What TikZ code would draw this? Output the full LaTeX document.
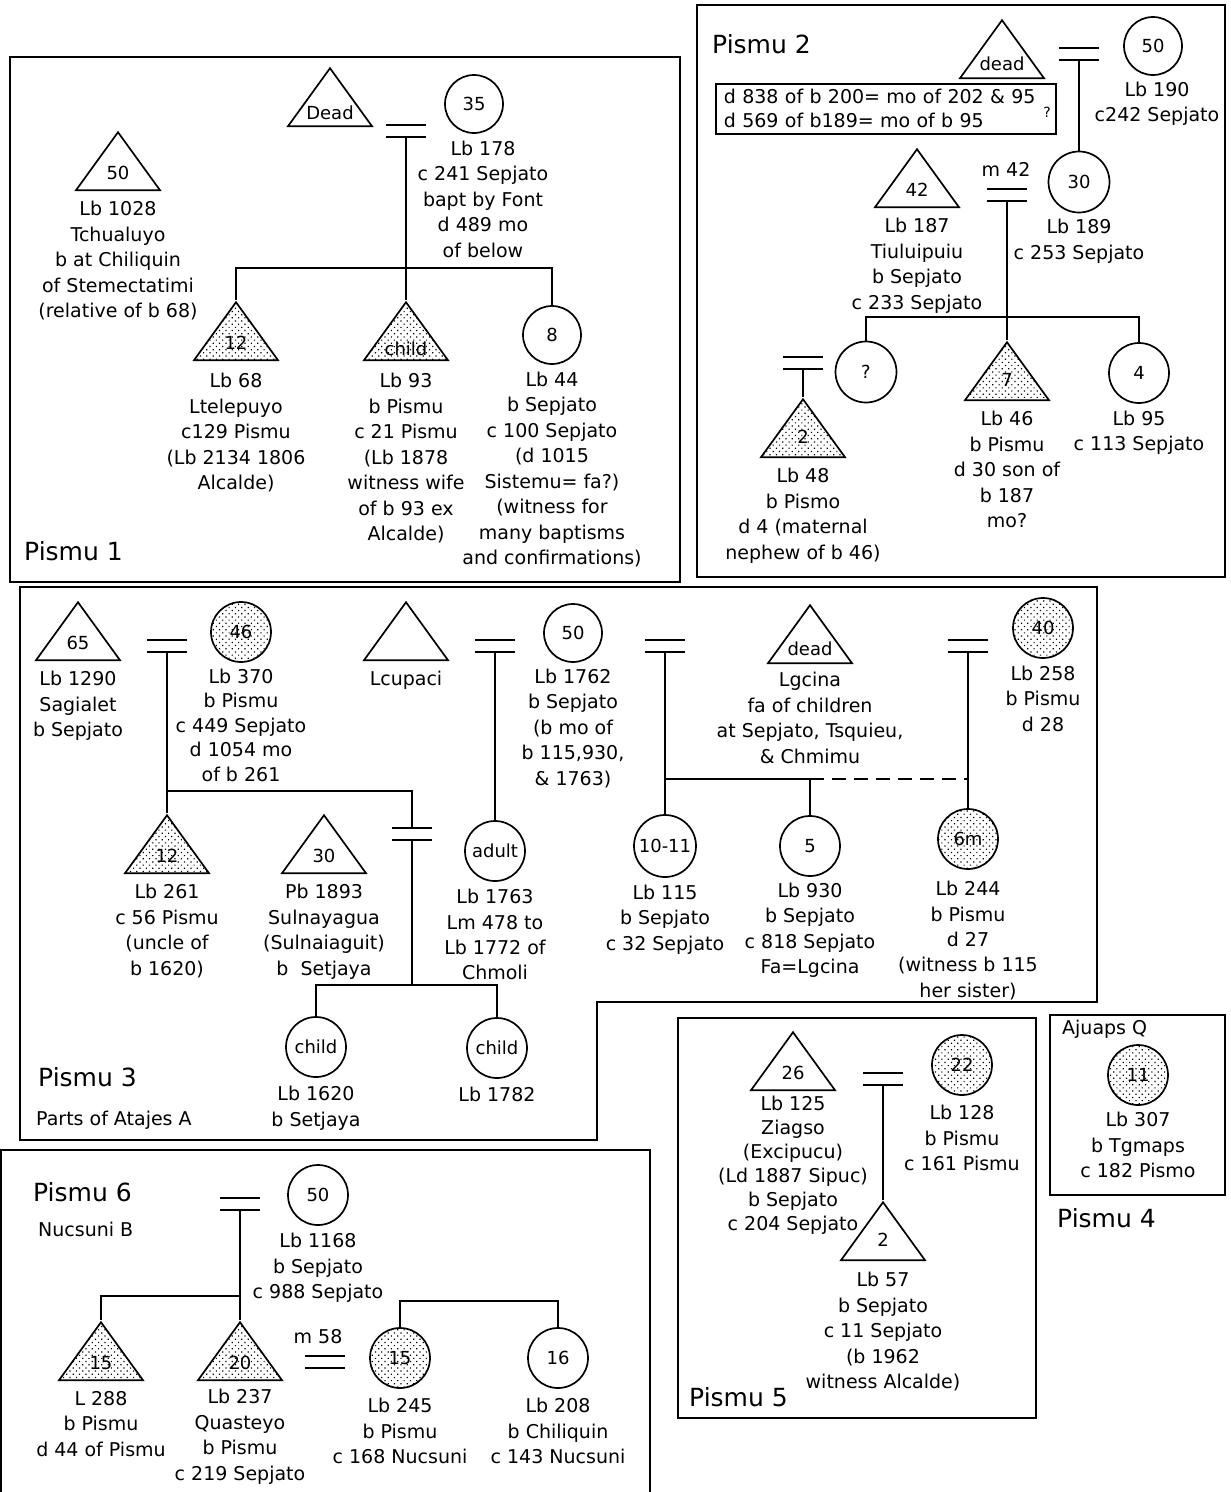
\documentclass[tikz,border=0pt]{standalone}
\usepackage{fontspec}
\setmainfont{DejaVu Sans}
\usetikzlibrary{positioning,shapes.geometric,patterns.meta}
\newcommand{\alul}[2][10pt]{\makebox[0pt]{\raisebox{-#1}[\height][\depth]{#2}}}
\tikzset{
  ferfi/.style={isosceles triangle,isosceles triangle stretches,shape border rotate=90,
    draw,line width=1.7pt,minimum width=84pt,minimum height=58pt,inner sep=1pt,anchor=apex,
    font=\fontsize{18}{20}\selectfont},
  noi/.style={circle,draw,line width=1.7pt,minimum size=58pt,inner sep=0pt,
    font=\fontsize{18}{20}\selectfont},
  pottyos/.style={pattern={Dots[distance=4.5pt,radius=0.85pt,angle=45]}},
  adat/.style={align=center,inner sep=0pt,font=\fontsize{19}{25.5}\selectfont},
  cim/.style={inner sep=0pt,font=\fontsize{25}{28}\selectfont},
  keret/.style={line width=1.8pt},
  vonal/.style={line width=1.8pt},
  hazas/.pic={\draw[vonal] (-20,-12) -- (20,-12) (-20,0) -- (20,0);
    \coordinate (-v) at (0,0); \coordinate (-t) at (0,-12);},
}
\begin{document}
\begin{tikzpicture}[x=1pt,y=-1pt]
  \useasboundingbox (0,0) rectangle (1231,1492);
  % Pismu 1
  \draw[keret] (10,57) rectangle (680,582);
  \node[cim,anchor=west] (cim1) at (24,551) {Pismu 1};
  \node[ferfi] (t1028) at (118,130) {50};
  \node[adat,below=10pt of t1028] (a1028) {Lb 1028\\Tchualuyo\\b at Chiliquin\\of Stemectatimi\\(relative of b 68)};
  \node[ferfi] (tdead1) at (330,66) {\alul{Dead}};
  \pic (m1) at (406,137) {hazas};
  \node[noi] (c178) at (474,104) {35};
  \node[adat,below=7pt of c178,xshift=9pt] (a178) {Lb 178\\c 241 Sepjato\\bapt by Font\\d 489 mo\\of below};
  \node[ferfi,pottyos] (t68) at (236,300) {12};
  \node[adat,below=12pt of t68] (a68) {Lb 68\\Ltelepuyo\\c129 Pismu\\(Lb 2134 1806\\Alcalde)};
  \node[ferfi,pottyos] (t93) at (406,300) {\alul[12pt]{child}};
  \node[adat,below=12pt of t93] (a93) {Lb 93\\b Pismu\\c 21 Pismu\\(Lb 1878\\witness wife\\of b 93 ex\\Alcalde)};
  \node[noi] (c44) at (552,335) {8};
  \node[adat,below=7pt of c44] (a44) {Lb 44\\b Sepjato\\c 100 Sepjato\\(d 1015\\Sistemu= fa?)\\(witness for\\many baptisms\\and confirmations)};
  \coordinate (s1) at (406,268);
  \draw[vonal] (m1-v) -- (t93.apex);
  \draw[vonal] (t68.apex) |- (s1) -| (c44.north);
  % Pismu 2
  \draw[keret] (697,5) rectangle (1225,577);
  \node[cim,anchor=west] (cim2) at (712,44) {Pismu 2};
  \node[ferfi] (tdead2) at (1002,18) {\alul[9pt]{dead}};
  \pic (m2) at (1079,60) {hazas};
  \node[noi] (c190) at (1153,46) {50};
  \node[adat,below=6pt of c190,xshift=4pt] (a190) {Lb 190\\c242 Sepjato};
  \node[draw,keret,anchor=north west,text width=324pt,minimum height=50pt,align=left,
    inner xsep=8pt,inner ysep=2pt,font=\fontsize{19}{24}\selectfont] (megj) at (715,83)
    {d 838 of b 200= mo of 202 \& 95\\d 569 of b189= mo of b 95};
  \node[inner sep=0pt,font=\fontsize{14}{14}\selectfont] (kerd) at (1047,112) {?};
  \node[noi,minimum size=61pt] (c189) at (1079,182) {30};
  \node[adat,below=6pt of c189] (a189) {Lb 189\\c 253 Sepjato};
  \node[ferfi] (t187) at (917,147) {42};
  \node[adat,below=10pt of t187] (a187) {Lb 187\\Tiuluipuiu\\b Sepjato\\c 233 Sepjato};
  \node[adat] (m42) at (1006,169) {m 42};
  \pic (m3) at (1007,201) {hazas};
  \node[noi,minimum size=61pt] (cq) at (866,372) {?};
  \node[noi,minimum size=60pt] (c95) at (1139,373) {4};
  \node[adat,below=7pt of c95] (a95) {Lb 95\\c 113 Sepjato};
  \node[ferfi,pottyos] (t46) at (1007,340) {7};
  \node[adat,below=10pt of t46] (a46) {Lb 46\\b Pismu\\d 30 son of\\b 187\\mo?};
  \pic (m4) at (803,369) {hazas};
  \node[ferfi,pottyos] (t48) at (803,397) {2};
  \node[adat,below=10pt of t48] (a48) {Lb 48\\b Pismo\\d 4 (maternal\\nephew of b 46)};
  \coordinate (s2) at (1007,317);
  \draw[vonal] (m2-v) -- (c189.north);
  \draw[vonal] (m3-v) -- (t46.apex);
  \draw[vonal] (cq.north) |- (s2) -| (c95.north);
  \draw[vonal] (m4-v) -- (t48.apex);
  % Pismu 3
  \draw[keret] (20,587) -- (1097,587) -- (1097,1002) -- (597,1002) -- (597,1140) -- (20,1140) -- cycle;
  \node[cim,anchor=west] (cim3) at (38,1077) {Pismu 3};
  \node[adat,anchor=west] (alcim3) at (36,1120) {Parts of Atajes A};
  \node[ferfi] (t1290) at (78,600) {65};
  \node[adat,below=10pt of t1290] (a1290) {Lb 1290\\Sagialet\\b Sepjato};
  \pic (m5) at (167,652) {hazas};
  \node[noi,pottyos,minimum size=60pt] (c370) at (241,632) {46};
  \node[adat,below=6pt of c370,font=\fontsize{19}{24.5}\selectfont] (a370) {Lb 370\\b Pismu\\c 449 Sepjato\\d 1054 mo\\of b 261};
  \node[ferfi] (tlcup) at (406,600) {};
  \node[adat,below=10pt of tlcup] (alcup) {Lcupaci};
  \pic (m6) at (495,652) {hazas};
  \node[noi] (c1762) at (573,633) {50};
  \node[adat,below=6pt of c1762] (a1762) {Lb 1762\\b Sepjato\\(b mo of\\b 115,930,\\\& 1763)};
  \pic (m7) at (665,652) {hazas};
  \node[ferfi] (tlgc) at (810,603) {\alul[9pt]{dead}};
  \node[adat,below=8pt of tlgc] (algc) {Lgcina\\fa of children\\at Sepjato, Tsquieu,\\\& Chmimu};
  \pic (m8) at (968,652) {hazas};
  \node[noi,pottyos,minimum size=60pt] (c258) at (1043,628) {40};
  \node[adat,below=7pt of c258] (a258) {Lb 258\\b Pismu\\d 28};
  \node[ferfi,pottyos] (t261) at (167,813) {12};
  \node[adat,below=10pt of t261] (a261) {Lb 261\\c 56 Pismu\\(uncle of\\b 1620)};
  \node[ferfi] (t1893) at (324,813) {30};
  \node[adat,below=10pt of t1893] (a1893) {Pb 1893\\Sulnayagua\\(Sulnaiaguit)\\b\ \ Setjaya};
  \pic (m9) at (412,840) {hazas};
  \node[noi,minimum size=60pt] (c1763) at (495,851) {adult};
  \node[adat,below=7pt of c1763] (a1763) {Lb 1763\\Lm 478 to\\Lb 1772 of\\Chmoli};
  \node[noi,minimum size=62pt] (c115) at (665,846) {10-11};
  \node[adat,below=7pt of c115] (a115) {Lb 115\\b Sepjato\\c 32 Sepjato};
  \node[noi,minimum size=60pt] (c930) at (810,846) {5};
  \node[adat,below=6pt of c930] (a930) {Lb 930\\b Sepjato\\c 818 Sepjato\\Fa=Lgcina};
  \node[noi,pottyos,minimum size=60pt] (c244) at (968,839) {6m};
  \node[adat,below=11pt of c244] (a244) {Lb 244\\b Pismu\\d 27\\(witness b 115\\her sister)};
  \node[noi,minimum size=60pt] (c1620) at (316,1047) {child};
  \node[adat,below=8pt of c1620] (a1620) {Lb 1620\\b Setjaya};
  \node[noi,minimum size=60pt] (c1782) at (497,1048) {child};
  \node[adat,below=8pt of c1782] (a1782) {Lb 1782};
  \coordinate (s3) at (412,791);
  \coordinate (s4) at (412,985);
  \coordinate (s5) at (810,779);
  \draw[vonal] (m5-v) -- (t261.apex);
  \draw[vonal] (t261.apex |- s3) -- (s3) -- (m9-t);
  \draw[vonal] (m9-v) -- (s4);
  \draw[vonal] (c1620.north) |- (s4) -| (c1782.north);
  \draw[vonal] (m6-v) -- (c1763.north);
  \draw[vonal] (m7-v) -- (c115.north);
  \draw[vonal] (c115.north |- s5) -- (s5) -- (c930.north);
  \draw[vonal,dash pattern=on 14pt off 8pt] (s5) -- (c244.north |- s5);
  \draw[vonal] (m8-v) -- (c244.north);
  % Pismu 5
  \draw[keret] (678,1018) rectangle (1036,1418);
  \node[cim,anchor=west] (cim5) at (689,1397) {Pismu 5};
  \node[ferfi] (t125) at (793,1030) {26};
  \node[adat,below=5pt of t125,font=\fontsize{19}{24}\selectfont] (a125) {Lb 125\\Ziagso\\(Excipucu)\\(Ld 1887 Sipuc)\\b Sepjato\\c 204 Sepjato};
  \pic (m10) at (883,1085) {hazas};
  \node[noi,pottyos,minimum size=60pt] (c128) at (962,1065) {22};
  \node[adat,below=9pt of c128] (a128) {Lb 128\\b Pismu\\c 161 Pismu};
  \node[ferfi] (t57) at (883,1200) {2};
  \node[adat,below=11pt of t57] (a57) {Lb 57\\b Sepjato\\c 11 Sepjato\\(b 1962\\witness Alcalde)};
  \draw[vonal] (m10-v) -- (t57.apex);
  % Pismu 4
  \draw[keret] (1050,1015) rectangle (1225,1195);
  \node[adat,anchor=west] (alcim4) at (1062,1029) {Ajuaps Q};
  \node[noi,pottyos,minimum size=60pt] (c307) at (1138,1075) {11};
  \node[adat,below=6pt of c307] (a307) {Lb 307\\b Tgmaps\\c 182 Pismo};
  \node[cim,anchor=west] (cim4) at (1057,1218) {Pismu 4};
  % Pismu 6
  \draw[keret] (1,1492) -- (1,1150) -- (650,1150) -- (650,1492);
  \node[cim,anchor=west] (cim6) at (33,1192) {Pismu 6};
  \node[adat,anchor=west] (alcim6) at (38,1229) {Nucsuni B};
  \pic (m11) at (240,1210) {hazas};
  \node[noi,minimum size=60pt] (c1168) at (318,1195) {50};
  \node[adat,below=7pt of c1168] (a1168) {Lb 1168\\b Sepjato\\c 988 Sepjato};
  \node[ferfi,pottyos] (t288) at (101,1320) {15};
  \node[adat,below=10pt of t288] (a288) {L 288\\b Pismu\\d 44 of Pismu};
  \node[ferfi,pottyos] (t237) at (240,1320) {20};
  \node[adat,below=8pt of t237] (a237) {Lb 237\\Quasteyo\\b Pismu\\c 219 Sepjato};
  \node[adat] (m58) at (318,1337) {m 58};
  \pic (m12) at (325,1368) {hazas};
  \node[noi,pottyos,minimum size=60pt] (c245) at (400,1358) {15};
  \node[adat,below=9pt of c245] (a245) {Lb 245\\b Pismu\\c 168 Nucsuni};
  \node[noi,minimum size=60pt] (c208) at (558,1358) {16};
  \node[adat,below=9pt of c208] (a208) {Lb 208\\b Chiliquin\\c 143 Nucsuni};
  \coordinate (s6) at (240,1296);
  \coordinate (s7) at (480,1301);
  \draw[vonal] (m11-v) -- (t237.apex);
  \draw[vonal] (t288.apex) |- (s6);
  \draw[vonal] (c245.north) |- (s7) -| (c208.north);
\end{tikzpicture}
\end{document}
